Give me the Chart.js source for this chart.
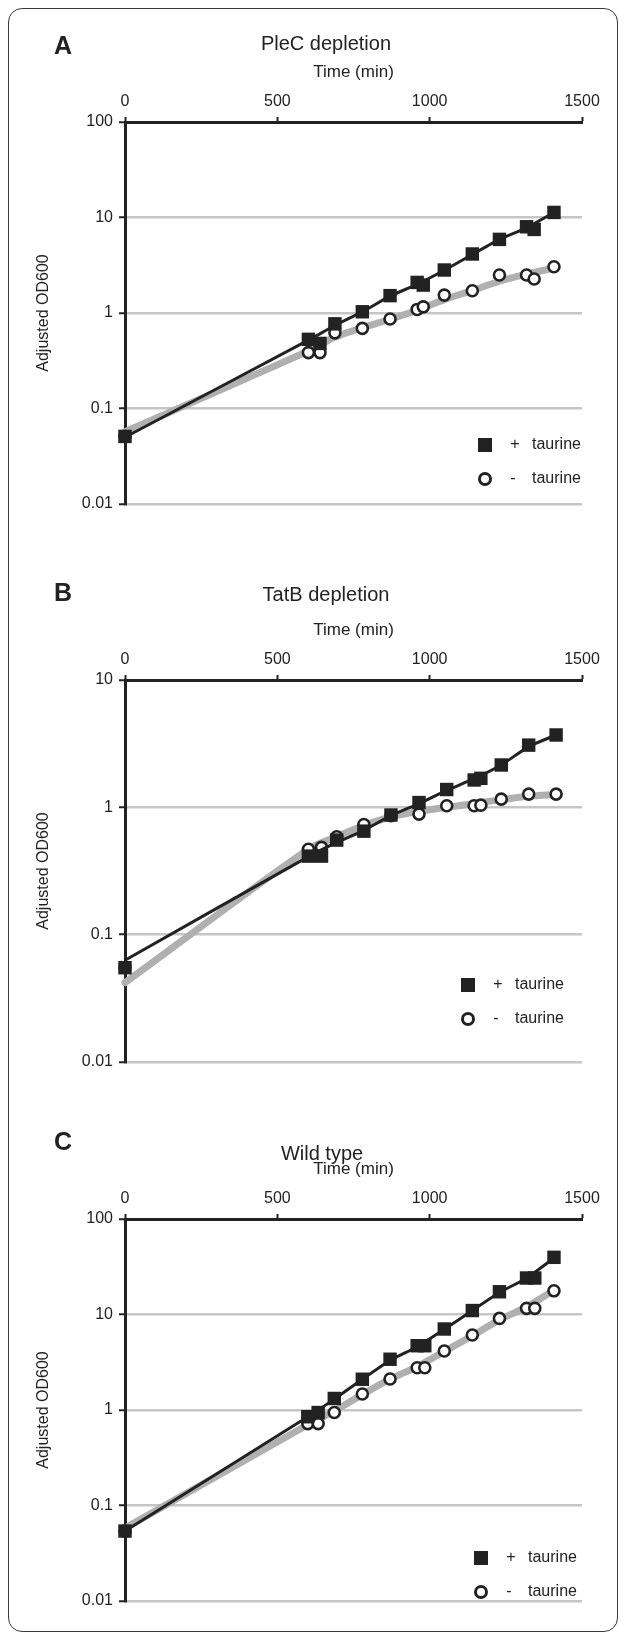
<!DOCTYPE html>
<html><head><meta charset="utf-8">
<script src="https://cdn.jsdelivr.net/npm/chart.js@4/dist/chart.umd.min.js"></script>
<style>
html,body{margin:0;padding:0;background:#fff;}
#wrap{position:relative;width:627px;height:1638px;overflow:hidden;background:#fff;}
#frame{position:absolute;left:8px;top:8px;width:608px;height:1622px;border:1.5px solid #3a3a3a;border-radius:14px;}
canvas{position:absolute;left:0;}
</style></head><body>
<div id="wrap"><div id="frame"></div>
<canvas id="cA" width="627" height="540" style="top:0px"></canvas>
<canvas id="cB" width="627" height="540" style="top:558px"></canvas>
<canvas id="cC" width="627" height="540" style="top:1097px"></canvas>
</div>
<script>
// ---------- data ----------
const xTicks = [0, 500, 1000, 1500];
const yTicks4 = [0.01, 0.1, 1, 10, 100];
const yTicks3 = [0.01, 0.1, 1, 10];
const yTickLabels = {0.01: '0.01', 0.1: '0.1', 1: '1', 10: '10', 100: '100'};
const legendSigns = ['+', '-'];
const legendWord = 'taurine';
const panelLetters = ['A', 'B', 'C'];
const panelTitles = ['PleC depletion', 'TatB depletion', 'Wild type'];
const xTitle = 'Time (min)';
const yTitle = 'Adjusted OD600';

// Panel A: PleC depletion
const timeA  = [0, 602, 640, 689, 779, 870, 959, 979, 1048, 1140, 1229, 1318, 1343, 1408];
const plusA  = [0.051, 0.53, 0.48, 0.77, 1.03, 1.52, 2.09, 1.96, 2.82, 4.15, 5.9, 8.0, 7.5, 11.3];
const minusA = [0.051, 0.385, 0.385, 0.62, 0.69, 0.865, 1.09, 1.16, 1.54, 1.71, 2.5, 2.5, 2.27, 3.05];
const trendTimeA  = [0, 602, 689, 779, 870, 959, 1048, 1140, 1229, 1318, 1408];
const trendPlusA  = [0.05, 0.52, 0.74, 1.03, 1.5, 2.0, 2.8, 4.1, 5.9, 7.8, 11.3];
const trendMinusA = [0.057, 0.40, 0.56, 0.70, 0.86, 1.07, 1.38, 1.72, 2.15, 2.55, 2.95];

// Panel B: TatB depletion
const timeB  = [0, 602, 645, 695, 784, 873, 965, 1056, 1146, 1168, 1235, 1325, 1415];
const plusB  = [0.055, 0.414, 0.414, 0.553, 0.65, 0.87, 1.09, 1.38, 1.64, 1.69, 2.15, 3.08, 3.7];
const minusB = [0.055, 0.468, 0.485, 0.588, 0.734, 0.86, 0.885, 1.03, 1.03, 1.04, 1.16, 1.27, 1.27];
const trendTimeB  = [0, 602, 695, 784, 873, 965, 1056, 1146, 1235, 1325, 1415];
const trendPlusB  = [0.063, 0.41, 0.53, 0.66, 0.86, 1.07, 1.36, 1.68, 2.15, 3.0, 3.7];
const trendMinusB = [0.042, 0.47, 0.59, 0.72, 0.84, 0.93, 1.0, 1.07, 1.15, 1.22, 1.26];

// Panel C: Wild type
const timeC  = [0, 600, 634, 687, 779, 870, 959, 984, 1048, 1140, 1229, 1318, 1345, 1408];
const plusC  = [0.054, 0.85, 0.94, 1.32, 2.1, 3.4, 4.71, 4.71, 7.05, 11.0, 17.3, 24.1, 24.1, 39.7];
const minusC = [0.054, 0.72, 0.72, 0.94, 1.47, 2.11, 2.77, 2.77, 4.15, 6.1, 9.1, 11.6, 11.6, 17.7];
const trendTimeC  = [0, 600, 687, 779, 870, 959, 1048, 1140, 1229, 1318, 1408];
const trendPlusC  = [0.054, 0.85, 1.3, 2.1, 3.3, 4.6, 7.0, 11.0, 17.0, 24.0, 39.0];
const trendMinusC = [0.058, 0.70, 0.98, 1.45, 2.1, 2.85, 4.1, 6.0, 8.8, 12.0, 18.0];

// ---------- drawing ----------
const FONT = "'Liberation Sans', Arial, Helvetica, sans-serif";
const INK = '#222222';
const zip = (xs, ys) => xs.map((x, i) => ({x: x, y: ys[i]}));

function makePanel(id, cfg) {
  const decor = {
    id: 'decor',
    afterDraw(chart) {
      const ctx = chart.ctx;
      ctx.save();
      ctx.fillStyle = INK;
      ctx.textBaseline = 'middle';
      ctx.font = 'bold 25px ' + FONT;
      ctx.textAlign = 'left';
      ctx.fillText(cfg.letter, 54, cfg.letterY);
      ctx.font = '20px ' + FONT;
      ctx.textAlign = 'center';
      ctx.fillText(cfg.title, cfg.titleX, cfg.titleY);
      // legend
      const lx = cfg.legX, ly = cfg.legY;
      ctx.fillRect(lx - 7, ly - 7, 14, 14);
      ctx.beginPath();
      ctx.arc(lx, ly + 34, 5.5, 0, Math.PI * 2);
      ctx.fillStyle = '#fff';
      ctx.fill();
      ctx.lineWidth = 3;
      ctx.strokeStyle = INK;
      ctx.stroke();
      ctx.fillStyle = INK;
      ctx.font = '16px ' + FONT;
      ctx.textAlign = 'center';
      ctx.fillText(legendSigns[0], lx + 30, ly);
      ctx.fillText(legendSigns[1], lx + 28, ly + 34);
      ctx.textAlign = 'left';
      ctx.fillText(legendWord, lx + 47, ly);
      ctx.fillText(legendWord, lx + 47, ly + 34);
      ctx.restore();
    }
  };
  new Chart(document.getElementById(id), {
    type: 'scatter',
    data: {
      datasets: [
        {data: zip(cfg.time, cfg.plus), showLine: false, pointStyle: 'rect', pointRadius: 9.5, pointHoverRadius: 9.5,
         backgroundColor: INK, borderColor: INK, borderWidth: 0, order: 0, clip: false},
        {data: zip(cfg.trendTime, cfg.trendPlus), showLine: true, pointRadius: 0, borderColor: INK,
         borderWidth: 3, order: 1, clip: false, tension: 0.2},
        {data: zip(cfg.time, cfg.minus), showLine: false, pointStyle: 'circle', pointRadius: 5.5, pointHoverRadius: 5.5,
         backgroundColor: '#ffffff', borderColor: INK, borderWidth: 2.6, order: 2, clip: false},
        {data: zip(cfg.trendTime, cfg.trendMinus), showLine: true, pointRadius: 0, borderColor: '#b0b0b0',
         borderWidth: 7, order: 3, clip: false, tension: 0.3, borderCapStyle: 'round'}
      ]
    },
    options: {
      responsive: false,
      animation: false,
      devicePixelRatio: 1,
      events: [],
      layout: {padding: {left: 0, right: 45, top: 0, bottom: 36}},
      plugins: {legend: {display: false}, tooltip: {enabled: false}},
      scales: {
        x: {
          type: 'linear', position: 'top', min: 0, max: 1500,
          afterBuildTicks: s => { s.ticks = xTicks.map(v => ({value: v})); },
          afterFit: s => { s.height = 122; },
          ticks: {font: {family: FONT, size: 16}, color: INK, padding: 6, maxRotation: 0,
                  callback: v => String(v)},
          grid: {drawOnChartArea: false, drawTicks: true, tickLength: 5, tickColor: INK, tickWidth: 2},
          border: {display: true, color: INK, width: 3},
          title: {display: true, text: xTitle, font: {family: FONT, size: 17}, color: INK,
                  padding: {top: 62, bottom: 0}}
        },
        y: {
          type: 'logarithmic', min: 0.01, max: cfg.yMax,
          afterBuildTicks: s => { s.ticks = cfg.yTicks.map(v => ({value: v})); },
          afterFit: s => { s.width = 125; },
          ticks: {font: {family: FONT, size: 16}, color: INK, padding: 6,
                  callback: v => yTickLabels[v]},
          grid: {color: '#c6c6c6', lineWidth: 2.5, drawTicks: true, tickLength: 6, tickColor: INK, tickWidth: 2},
          border: {display: true, color: INK, width: 3},
          title: {display: true, text: yTitle, font: {family: FONT, size: 16}, color: INK,
                  padding: {top: 34, bottom: 0}}
        }
      }
    },
    plugins: [decor]
  });
}

makePanel('cA', {time: timeA, plus: plusA, minus: minusA, trendTime: trendTimeA, trendPlus: trendPlusA,
  trendMinus: trendMinusA, yMax: 100, yTicks: yTicks4, letter: panelLetters[0], title: panelTitles[0],
  letterY: 47, titleX: 326, titleY: 44, legX: 485, legY: 445});
makePanel('cB', {time: timeB, plus: plusB, minus: minusB, trendTime: trendTimeB, trendPlus: trendPlusB,
  trendMinus: trendMinusB, yMax: 10, yTicks: yTicks3, letter: panelLetters[1], title: panelTitles[1],
  letterY: 36, titleX: 326, titleY: 37, legX: 468, legY: 427});
makePanel('cC', {time: timeC, plus: plusC, minus: minusC, trendTime: trendTimeC, trendPlus: trendPlusC,
  trendMinus: trendMinusC, yMax: 100, yTicks: yTicks4, letter: panelLetters[2], title: panelTitles[2],
  letterY: 46, titleX: 322, titleY: 57, legX: 481, legY: 461});
</script>
</body></html>
